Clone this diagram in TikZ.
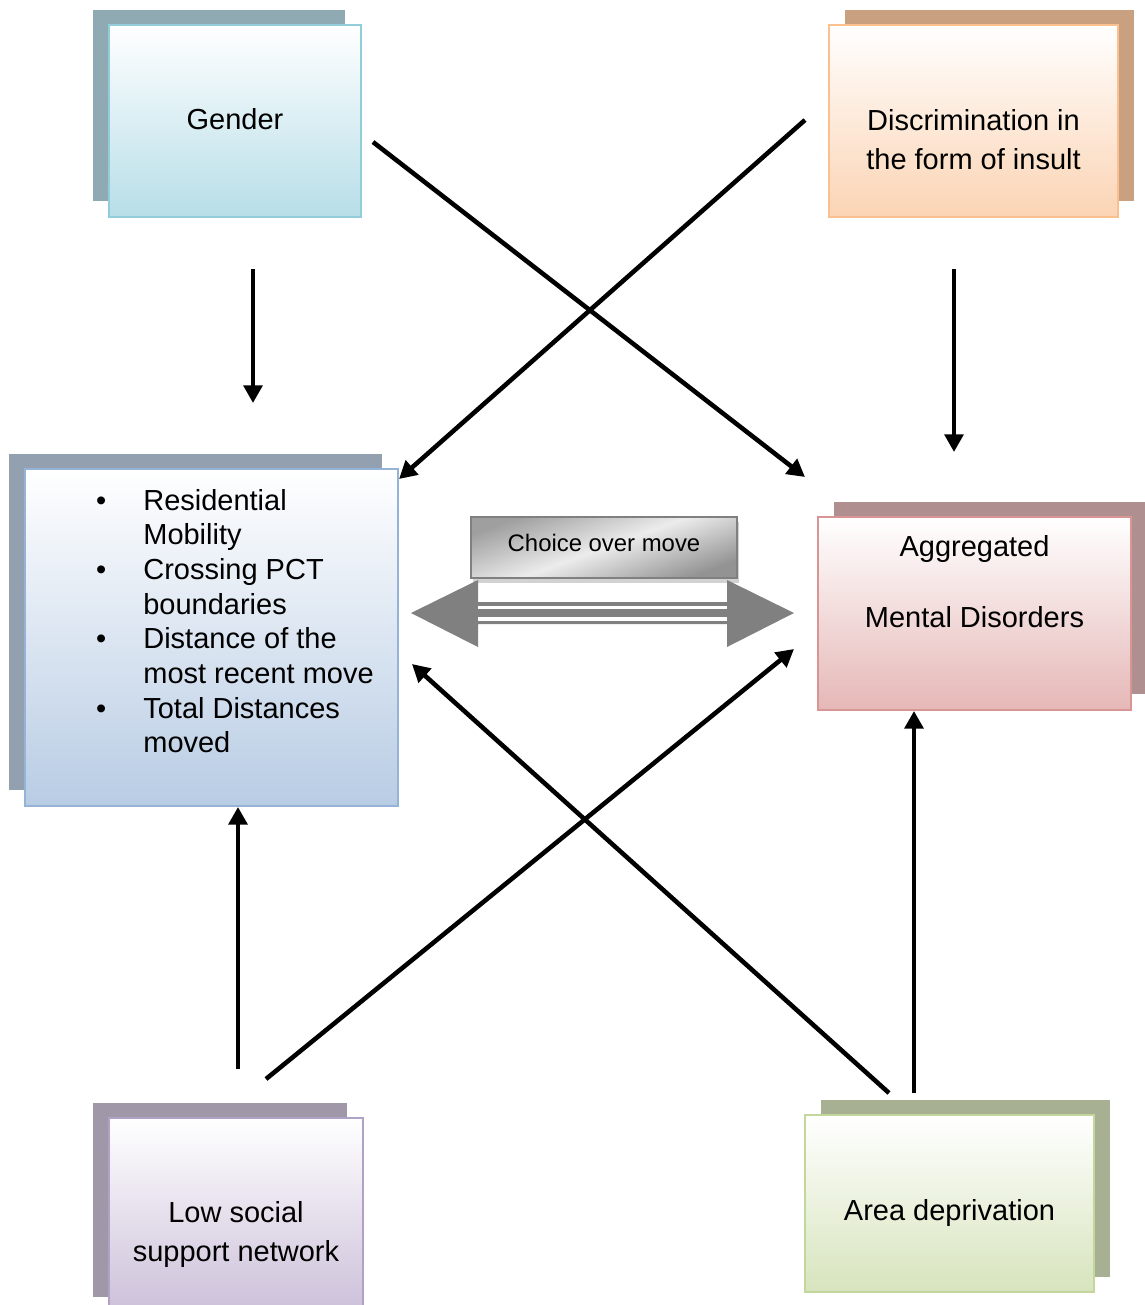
\documentclass[tikz,border=0pt]{standalone}
\usepackage{fontspec}
\setmainfont{Liberation Sans}
\usetikzlibrary{arrows.meta,shadows,positioning}
\definecolor{gendline}{RGB}{146,205,220}
\definecolor{gendfill}{RGB}{183,222,232}
\definecolor{gendshad}{RGB}{143,170,178}
\definecolor{discline}{RGB}{250,192,144}
\definecolor{discfill}{RGB}{251,212,180}
\definecolor{discshad}{RGB}{201,160,128}
\definecolor{mobline}{RGB}{149,179,215}
\definecolor{mobfill}{RGB}{184,204,228}
\definecolor{mobshad}{RGB}{146,160,176}
\definecolor{mdisline}{RGB}{217,149,148}
\definecolor{mdisfill}{RGB}{229,184,183}
\definecolor{mdisshad}{RGB}{175,143,143}
\definecolor{lsnline}{RGB}{178,161,199}
\definecolor{lsnfill}{RGB}{204,192,217}
\definecolor{lsnshad}{RGB}{160,151,168}
\definecolor{ardline}{RGB}{195,214,155}
\definecolor{ardfill}{RGB}{215,228,189}
\definecolor{ardshad}{RGB}{168,176,148}
\definecolor{arrgray}{RGB}{128,128,128}
\tikzset{
  boxl/.style ={draw=#1line, line width=1.1pt, inner sep=0pt, top color=white, bottom color=#1fill,
                general shadow={shadow xshift=-0.32cm, shadow yshift=0.31cm, fill=#1shad}},
  boxr/.style ={draw=#1line, line width=1.1pt, inner sep=0pt, top color=white, bottom color=#1fill,
                general shadow={shadow xshift=0.32cm, shadow yshift=0.31cm, fill=#1shad}},
  choicebox/.style={draw=arrgray, line width=1.1pt, inner sep=0pt, text depth=0.18cm,
                left color=gray!85, right color=gray!75, middle color=gray!15, shading angle=200,
                general shadow={shadow xshift=0.04cm, shadow yshift=-0.1cm, fill=gray!35},
                font=\fontsize{13.6pt}{16pt}\selectfont},
  txt/.style  ={font=\fontsize{16.5pt}{22pt}\selectfont, align=center, inner sep=0pt},
  lst/.style  ={font=\fontsize{16.5pt}{19.7pt}\selectfont, align=left, inner sep=0pt},
  arr/.style  ={draw=black, line width=2.6pt, -{Triangle[length=10pt,width=10.5pt]}},
}
\newcommand{\bul}{\llap{\textbullet\hspace{0.74cm}}}

\begin{document}
\begin{tikzpicture}[x=0.02cm,y=-0.02cm]
  \useasboundingbox (0,0) rectangle (1144,1305);
  % boxes
  \node[boxl=gend, minimum width=5.04cm, minimum height=3.84cm] (gend) at (235,121) {};
  \node[boxr=disc, minimum width=5.78cm, minimum height=3.84cm] (disc) at (973.5,121) {};
  \node[boxl=mob, minimum width=7.46cm, minimum height=6.74cm] (mob) at (211.5,637.5) {};
  \node[boxr=mdis, minimum width=6.26cm, minimum height=3.86cm] (mdis) at (974.5,613.5) {};
  \node[boxl=lsn, minimum width=5.08cm, minimum height=3.88cm] (lsn) at (236,1215) {};
  \node[boxr=ard, minimum width=5.78cm, minimum height=3.54cm] (ard) at (949.5,1203.5) {};
  % texts
  \node[txt] (gend-t) at ([yshift=0.04cm]gend.center) {Gender};
  \node[txt] (disc-t) at ([yshift=-0.37cm]disc.center) {Discrimination in\\the form of insult};
  \node[lst, anchor=north west] (mob-t) at (143,489)
    {\bul Residential\\Mobility\\\bul Crossing PCT\\boundaries\\\bul Distance of the\\most recent move\\\bul Total Distances\\moved};
  \node[txt, font=\fontsize{16.5pt}{20.1pt}\selectfont] (mdis-t) at ([yshift=0.64cm]mdis.center) {Aggregated\\[20.1pt]Mental Disorders};
  \node[txt] (lsn-t) at ([yshift=-0.39cm]lsn.center) {Low social\\support network};
  \node[txt] (ard-t) at ([yshift=-0.19cm]ard.center) {Area deprivation};
  % choice over move
  \node[choicebox, minimum width=5.32cm, minimum height=1.22cm] (choice) at (604,547.5) {Choice over move};
  \fill[arrgray] (411,613) -- (478,580) -- (478,602) -- (727,602) -- (727,580) -- (794,613)
    -- (727,647) -- (727,624) -- (478,624) -- (478,647) -- cycle;
  \fill[white] (478,606) rectangle (727,609.3);
  \fill[white] (478,616.7) rectangle (727,620.7);
  % arrows
  \coordinate (gend-s) at (253,269);
  \coordinate (gend-e) at (253,403);
  \coordinate (disc-s) at (954,269);
  \coordinate (disc-e) at (954,452);
  \coordinate (gendx-s) at (373,142);
  \coordinate (gendx-e) at (805,477);
  \coordinate (discx-s) at (805,120);
  \coordinate (discx-e) at (399,479);
  \coordinate (lsn-s) at (238,1069);
  \coordinate (lsnx-s) at (266,1079);
  \coordinate (lsnx-e) at (794,649);
  \coordinate (ardx-s) at (889,1093);
  \coordinate (ardx-e) at (412,664);
  \coordinate (ard-s) at (914,1093);
  \draw[arr] (gend-s) -- (gend-e);
  \draw[arr] (disc-s) -- (disc-e);
  \draw[arr] (gendx-s) -- (gendx-e);
  \draw[arr] (discx-s) -- (discx-e);
  \draw[arr] (lsn-s) -- (mob.south -| lsn-s);
  \draw[arr] (lsnx-s) -- (lsnx-e);
  \draw[arr] (ardx-s) -- (ardx-e);
  \draw[arr] (ard-s) -- (mdis.south -| ard-s);
\end{tikzpicture}
\end{document}
